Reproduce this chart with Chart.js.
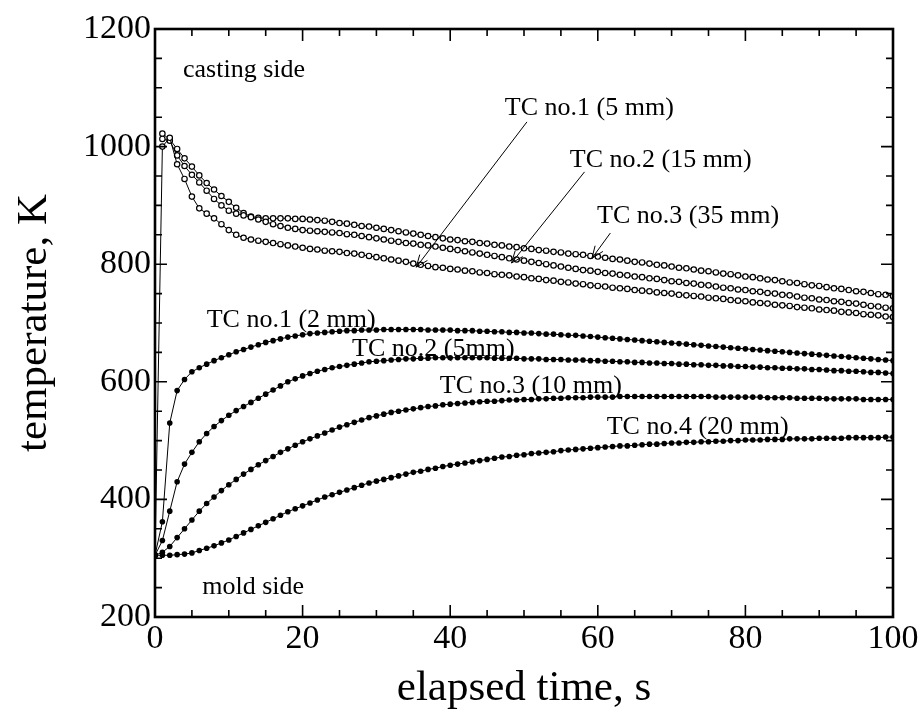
<!DOCTYPE html>
<html>
<head>
<meta charset="utf-8">
<script src="https://cdn.jsdelivr.net/npm/chart.js@4.4.0/dist/chart.umd.min.js"></script>
<style>
  html, body { margin: 0; padding: 0; background: #fff; }
</style>
</head>
<body>
<canvas id="tempChart" width="924" height="721"></canvas>
<script>
// elapsed time, s
const seconds = [0,1,2,3,4,5,6,7,8,9,10,11,12,13,14,15,16,17,18,19,20,21,22,23,24,25,26,27,28,29,30,31,32,33,34,35,36,37,38,39,40,41,42,43,44,45,46,47,48,49,50,51,52,53,54,55,56,57,58,59,60,61,62,63,64,65,66,67,68,69,70,71,72,73,74,75,76,77,78,79,80,81,82,83,84,85,86,87,88,89,90,91,92,93,94,95,96,97,98,99,100];

// mold side thermocouples (filled markers), K
const mold2mm = [305,362,530,585,604,617,624,630,636,641,646,651,655,659,663,667,670,673,676,678,680,682,683,684,685,686,687,687,688,688,688,689,689,689,689,689,689,688,688,688,688,687,687,687,686,686,685,685,684,684,683,683,682,681,681,680,679,679,678,677,676,675,674,673,672,671,670,669,668,667,666,665,664,663,662,661,660,659,658,657,656,655,654,653,652,651,650,649,648,647,646,645,644,643,642,641,640,639,638,637,636];
const mold5mm = [305,330,380,430,460,480,498,512,524,534,543,551,558,565,572,579,586,593,600,605,610,614,618,621,624,626,628,630,632,634,635,636,637,638,639,639,640,640,641,641,641,641,641,641,641,641,640,640,640,640,639,639,639,638,638,638,637,637,637,636,636,635,635,634,634,633,633,632,632,631,631,630,630,629,629,628,628,627,627,626,626,625,625,624,624,623,623,622,622,621,621,620,619,619,618,618,617,616,616,615,614];
const mold10mm = [305,310,320,335,350,365,380,393,404,415,425,434,443,451,459,466,473,480,486,492,498,503,508,513,518,523,527,531,535,539,542,545,548,550,552,554,556,558,559,561,562,563,564,565,566,567,567,568,569,569,570,570,571,571,572,572,573,573,573,574,574,574,574,575,575,575,575,575,575,575,575,575,575,575,575,575,574,574,574,574,574,574,574,573,573,573,573,572,572,572,572,571,571,571,571,571,570,570,570,570,570];
const mold20mm = [305,305,305,306,307,309,313,317,321,326,331,337,343,349,355,361,367,373,379,384,389,394,399,404,408,412,416,420,424,428,431,434,437,440,443,446,448,451,453,456,458,460,462,464,466,468,470,472,473,475,476,478,479,480,481,483,484,485,486,487,488,489,490,491,491,492,493,494,494,495,496,496,497,497,498,498,499,499,500,500,501,501,501,502,502,502,503,503,503,503,504,504,504,504,505,505,505,505,505,506,506];

// casting side thermocouples (open markers), K
const cast5mm = [305,1000,1015,970,945,915,895,886,878,868,858,850,845,842,840,838,836,834,832,830,828,826,825,823,822,821,819,818,816,814,812,810,808,806,804,801,799,797,795,794,792,791,789,788,786,785,783,782,781,779,778,776,775,773,772,770,769,767,766,764,763,762,760,759,758,756,755,754,752,751,750,748,747,746,745,743,742,741,739,738,737,735,734,733,731,730,729,727,726,725,723,722,721,719,718,717,715,714,713,711,710];
const cast15mm = [null,1013,1010,985,967,952,939,925,911,900,891,886,883,880,876,872,868,865,862,860,858,857,856,855,854,853,851,850,848,846,844,842,840,838,836,835,833,832,830,828,826,824,822,820,818,816,814,812,810,808,806,804,802,800,798,796,794,792,790,789,787,785,784,782,781,779,778,776,775,773,771,770,768,767,765,764,762,760,759,757,756,754,753,751,750,748,747,745,743,742,740,739,737,736,734,733,731,729,728,726,725];
const cast35mm = [null,1022,1012,996,980,966,951,938,927,916,906,896,887,881,879,878,878,878,878,877,877,876,875,874,872,870,869,867,865,864,862,860,858,856,854,852,850,848,846,844,842,841,839,838,836,835,833,832,830,829,827,826,824,823,821,820,818,817,816,814,813,811,809,808,806,804,803,801,799,798,796,794,793,791,789,788,786,784,783,781,779,778,776,774,773,771,769,768,766,764,763,761,759,758,756,754,753,751,749,748,746];

const xTicks = [0, 20, 40, 60, 80, 100];
const yTicks = [200, 400, 600, 800, 1000, 1200];

const FONT = 'Liberation Serif';

// text notes and pointer arrows, placed in data units
const notes = [
  { text: 'casting side', t: 3.8, v: 1130 },
  { text: 'mold side', t: 6.4, v: 251 },
  { text: 'TC no.1 (5 mm)', t: 47.4, v: 1066 },
  { text: 'TC no.2 (15 mm)', t: 56.2, v: 977 },
  { text: 'TC no.3 (35 mm)', t: 59.9, v: 881 },
  { text: 'TC no.1 (2 mm)', t: 7.0, v: 705 },
  { text: 'TC no.2 (5mm)', t: 26.7, v: 656 },
  { text: 'TC no.3 (10 mm)', t: 38.6, v: 593 },
  { text: 'TC no.4 (20 mm)', t: 61.2, v: 523 }
];
const pointers = [
  { from: [50.4, 1042], to: [35.4, 795] },
  { from: [58.2, 957], to: [48.3, 802] },
  { from: [61.7, 853], to: [59.2, 810] }
];

function series(vals) {
  return seconds.map((t, i) => ({ x: t, y: vals[i] }));
}

function solid(vals) {
  return {
    data: series(vals),
    borderColor: '#000',
    borderWidth: 1,
    pointRadius: 2.8,
    pointBackgroundColor: '#000',
    pointBorderColor: '#000',
    pointBorderWidth: 0,
    tension: 0
  };
}

function open(vals) {
  return {
    data: series(vals),
    borderColor: '#000',
    borderWidth: 1,
    pointRadius: 2.7,
    pointBackgroundColor: '#fff',
    pointBorderColor: '#000',
    pointBorderWidth: 1.2,
    tension: 0
  };
}

// frame with inward major/minor ticks on all four sides
const framePlugin = {
  id: 'frame',
  afterDraw(chart) {
    const { ctx, chartArea: a, scales: { x, y } } = chart;
    ctx.save();
    ctx.strokeStyle = '#000';
    ctx.lineWidth = 1.6;
    ctx.beginPath();
    for (let v = 0; v <= 100; v += 5) {
      const px = x.getPixelForValue(v);
      const len = v % 20 === 0 ? 12 : 7;
      ctx.moveTo(px, a.bottom); ctx.lineTo(px, a.bottom - len);
      ctx.moveTo(px, a.top); ctx.lineTo(px, a.top + len);
    }
    for (let v = 200; v <= 1200; v += 50) {
      const py = y.getPixelForValue(v);
      const len = v % 200 === 0 ? 12 : 7;
      ctx.moveTo(a.left, py); ctx.lineTo(a.left + len, py);
      ctx.moveTo(a.right, py); ctx.lineTo(a.right - len, py);
    }
    ctx.stroke();
    ctx.lineWidth = 2.6;
    ctx.strokeRect(a.left, a.top, a.right - a.left, a.bottom - a.top);
    ctx.restore();
  }
};

const notesPlugin = {
  id: 'notes',
  afterDatasetsDraw(chart) {
    const { ctx, scales: { x, y } } = chart;
    ctx.save();
    ctx.fillStyle = '#000';
    ctx.font = '26px "' + FONT + '"';
    ctx.textAlign = 'left';
    ctx.textBaseline = 'middle';
    notes.forEach(n => ctx.fillText(n.text, x.getPixelForValue(n.t), y.getPixelForValue(n.v)));
    ctx.strokeStyle = '#000';
    ctx.lineWidth = 1;
    pointers.forEach(p => {
      const x0 = x.getPixelForValue(p.from[0]), y0 = y.getPixelForValue(p.from[1]);
      const x1 = x.getPixelForValue(p.to[0]), y1 = y.getPixelForValue(p.to[1]);
      const ang = Math.atan2(y1 - y0, x1 - x0);
      const head = 13, spread = 0.38;
      ctx.beginPath();
      ctx.moveTo(x0, y0); ctx.lineTo(x1, y1);
      ctx.moveTo(x1, y1); ctx.lineTo(x1 - head * Math.cos(ang - spread), y1 - head * Math.sin(ang - spread));
      ctx.moveTo(x1, y1); ctx.lineTo(x1 - head * Math.cos(ang + spread), y1 - head * Math.sin(ang + spread));
      ctx.stroke();
    });
    ctx.restore();
  }
};

const ctx = document.getElementById('tempChart').getContext('2d');
new Chart(ctx, {
  type: 'line',
  data: {
    datasets: [
      solid(mold2mm), solid(mold5mm), solid(mold10mm), solid(mold20mm),
      open(cast5mm), open(cast15mm), open(cast35mm)
    ]
  },
  options: {
    responsive: false,
    animation: false,
    layout: { padding: { top: 29, right: 31, left: 0, bottom: 0 } },
    plugins: { legend: { display: false }, tooltip: { enabled: false } },
    scales: {
      x: {
        type: 'linear', min: 0, max: 100,
        afterBuildTicks: s => { s.ticks = xTicks.map(v => ({ value: v })); },
        afterFit: s => { s.height = 104; },
        grid: { display: false, drawTicks: false },
        border: { display: false },
        ticks: { font: { family: FONT, size: 34 }, color: '#000', padding: 2, maxRotation: 0,
                 callback: v => String(v) },
        title: { display: true, text: 'elapsed time, s', color: '#000',
                 font: { family: FONT, size: 43 }, padding: { top: 0, bottom: 6 } }
      },
      y: {
        type: 'linear', min: 200, max: 1200,
        afterBuildTicks: s => { s.ticks = yTicks.map(v => ({ value: v })); },
        afterFit: s => { s.width = 155; },
        grid: { display: false, drawTicks: false },
        border: { display: false },
        ticks: { font: { family: FONT, size: 34 }, color: '#000', padding: 4,
                 callback: v => String(v) },
        title: { display: true, text: 'temperature, K', color: '#000',
                 font: { family: FONT, size: 43 }, padding: { top: 9, bottom: 0 } }
      }
    }
  },
  plugins: [framePlugin, notesPlugin]
});
</script>
</body>
</html>
